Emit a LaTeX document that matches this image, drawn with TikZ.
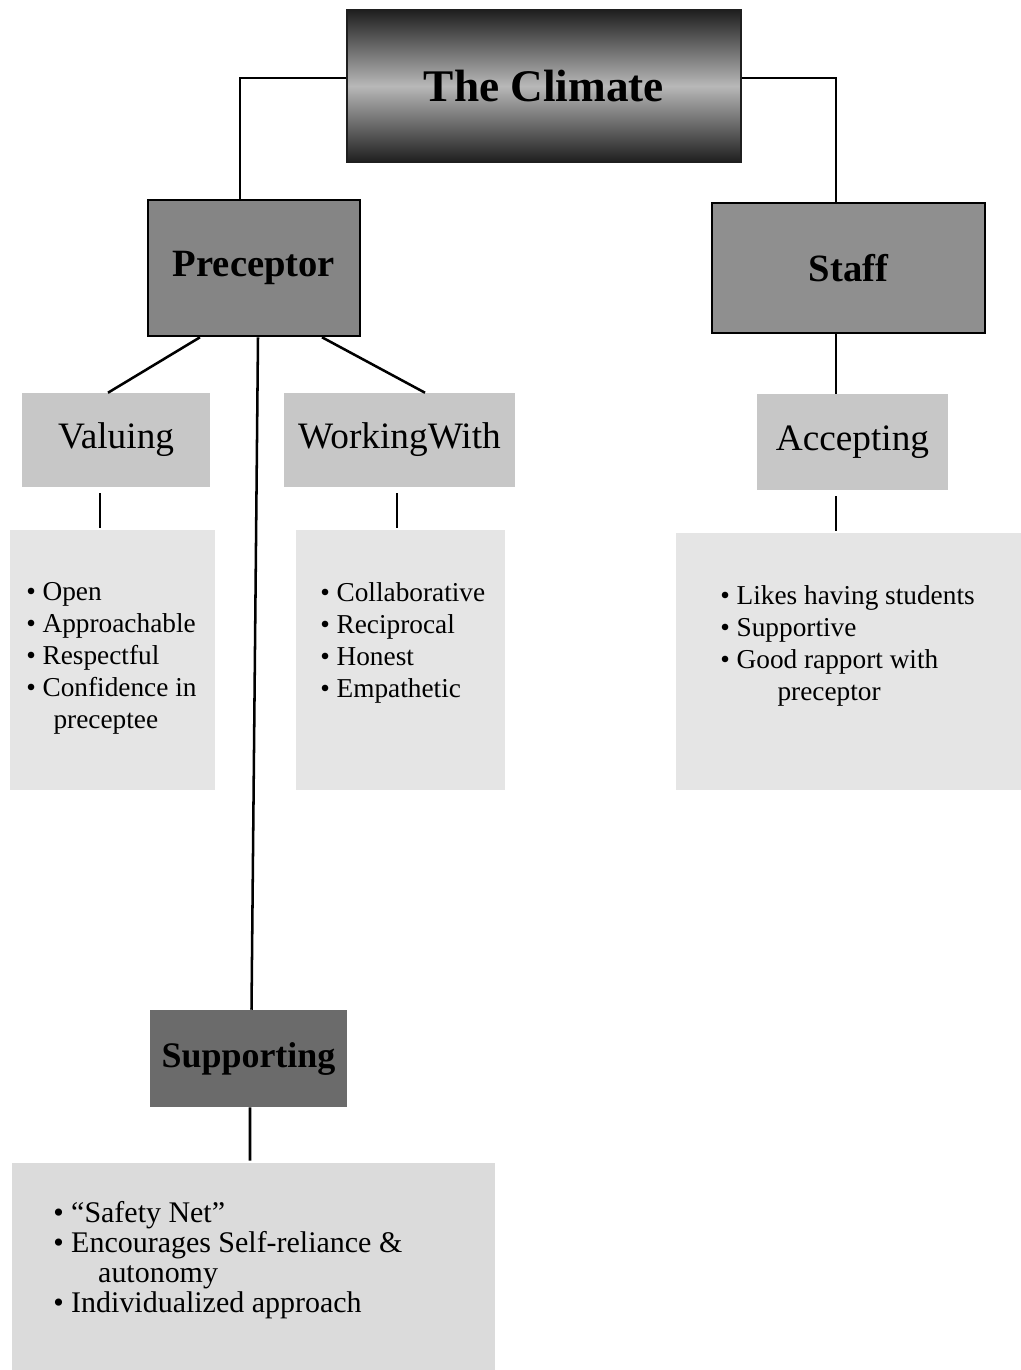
\documentclass[tikz,border=0pt]{standalone}
\usepackage{fontspec}
\setmainfont{Liberation Serif}
\usetikzlibrary{calc}
\definecolor{gdark}{gray}{0.12}
\definecolor{gmid}{gray}{0.72}
\definecolor{gprec}{gray}{0.52}
\definecolor{gstaff}{gray}{0.56}
\definecolor{gsub}{gray}{0.78}
\definecolor{gsupp}{gray}{0.42}
\definecolor{glist}{gray}{0.90}
\definecolor{gslist}{gray}{0.86}
\tikzset{
  link/.style={line width=1.9pt, black},
  mainbox/.style={draw=black, line width=1.9pt, inner sep=0pt, font=\bfseries\fontsize{29}{32}\selectfont},
  subbox/.style={fill=gsub, inner sep=0pt, font=\fontsize{28}{32}\selectfont},
  listbox/.style={fill=glist, inner sep=0pt},
  listtext/.style={anchor=north west, inner sep=0pt, align=left, font=\fontsize{20.5}{24}\selectfont},
}
\begin{document}
\begin{tikzpicture}[x=0.0264cm, y=-0.0264cm]
\useasboundingbox (0,0) rectangle (1021,1370);

% top-level node with a dark-light-dark band
\node[draw=gdark, line width=1.2pt, inner sep=0pt, minimum width=394*0.0264cm, minimum height=152*0.0264cm,
      top color=gdark, bottom color=gdark, middle color=gmid,
      font=\bfseries\fontsize{34}{38}\selectfont] (climate) at (544,86) {The Climate};

% second level
\node[mainbox, fill=gprec, minimum width=212*0.0264cm, minimum height=136*0.0264cm] (preceptor) at (254,268) {Preceptor};
\node[mainbox, fill=gstaff, minimum width=273*0.0264cm, minimum height=130*0.0264cm] (staff) at (848.5,268) {Staff};

% third level
\node[subbox, minimum width=188*0.0264cm, minimum height=94*0.0264cm] (valuing) at (116,440) {Valuing};
\node[subbox, minimum width=231*0.0264cm, minimum height=94*0.0264cm] (working) at (399.5,440) {WorkingWith};
\node[subbox, minimum width=191*0.0264cm, minimum height=96*0.0264cm] (accepting) at (852.5,442) {Accepting};
\node[fill=gsupp, inner sep=0pt, minimum width=197*0.0264cm, minimum height=97*0.0264cm,
      font=\bfseries\fontsize{27}{30}\selectfont] (supporting) at (248.5,1058.5) {Supporting};

% detail panels
\node[listbox, minimum width=205*0.0264cm, minimum height=260*0.0264cm] (valist) at (112.5,660) {};
\node[listbox, minimum width=209*0.0264cm, minimum height=260*0.0264cm] (wwlist) at (400.5,660) {};
\node[listbox, minimum width=345*0.0264cm, minimum height=257*0.0264cm] (stlist) at (848.5,661.5) {};
\node[fill=gslist, inner sep=0pt, minimum width=483*0.0264cm, minimum height=207*0.0264cm] (splist) at (253.5,1266.5) {};

\node[listtext] (valtext) at (26,582) {\textbullet{} Open\\ \textbullet{} Approachable\\ \textbullet{} Respectful\\ \textbullet{} Confidence in\\ \hspace*{1em}preceptee};
\node[listtext] (wwtext) at (320,582) {\textbullet{} Collaborative\\ \textbullet{} Reciprocal\\ \textbullet{} Honest\\ \textbullet{} Empathetic};
\node[listtext] (sttext) at (720,585) {\textbullet{} Likes having students\\ \textbullet{} Supportive\\ \textbullet{} Good rapport with\\ \hspace*{2.1em}preceptor};
\node[listtext, font=\fontsize{22.5}{22.5}\selectfont] (sptext) at (53,1201) {\textbullet{} ``Safety Net''\\ \textbullet{} Encourages Self-reliance \&\\ \hspace*{1.5em}autonomy\\ \textbullet{} Individualized approach};

% connectors
\draw[link] ($(climate.west)+(0,-8)$) -| ($(preceptor.north)+(-14,0)$);
\draw[link] ($(climate.east)+(0,-8)$) -| ($(staff.north)+(-12.5,0)$);
\draw[link] ($(preceptor.south)+(-54,0)$) -- ($(valuing.north)+(-8,0)$);
\draw[link] ($(preceptor.south)+(68,0)$) -- ($(working.north)+(25.5,0)$);
\draw[link] ($(preceptor.south)+(4,0)$) -- ($(supporting.north)+(3,0)$);
\draw[link] ($(staff.south)+(-12.5,0)$) -- ($(accepting.north)+(-16.5,0)$);
\draw[link] ($(valuing.south)+(-16,6)$) -- ($(valist.north)+(-12.5,-2)$);
\draw[link] ($(working.south)+(-2.5,6)$) -- ($(wwlist.north)+(-3.5,-2)$);
\draw[link] ($(accepting.south)+(-16.5,6)$) -- ($(stlist.north)+(-12.5,-2)$);
\draw[link] ($(supporting.south)+(1.5,0)$) -- ($(splist.north)+(-3.5,-2)$);
\end{tikzpicture}
\end{document}
